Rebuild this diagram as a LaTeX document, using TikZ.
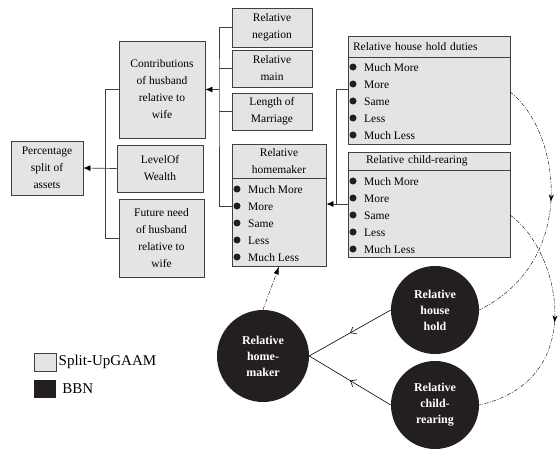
\documentclass[tikz,border=0pt]{standalone}
\usepackage{fontspec}
\setmainfont{Liberation Serif}
\usepackage{tikz}
\usetikzlibrary{arrows.meta,decorations.markings}

\definecolor{boxgray}{HTML}{E4E4E4}
\definecolor{edgegray}{HTML}{404040}
\definecolor{bbnblack}{HTML}{231F20}

\tikzset{
  gbox/.style={draw=edgegray, fill=boxgray, line width=0.8pt, align=center, inner sep=2pt, font=\fontsize{11.5}{17}\selectfont},
  bbn/.style={circle, fill=bbnblack, text=white, align=center, inner sep=0pt, font=\fontsize{12}{16}\selectfont\bfseries},
  itm/.style={anchor=west, inner sep=0pt, text height=8pt, text depth=0pt, font=\fontsize{11.5}{17}\selectfont},
  legtext/.style={anchor=west, inner sep=2pt, font=\fontsize{15}{18}\selectfont},
  link/.style={draw=edgegray, line width=0.7pt},
  feed/.style={link, -{Latex[length=7pt,width=6pt,black]}},
  dd/.style={thin, dash pattern=on 4pt off 1.5pt on 1pt off 1.5pt},
  midarrow/.style={postaction={decorate}, decoration={markings, mark=at position #1 with {\arrow{Stealth[length=7pt,width=5pt]}}}},
  midopen/.style={postaction={decorate}, decoration={markings, mark=at position #1 with {\arrow{Straight Barb[length=5pt,width=8pt,line width=0.6pt]}}}}
}

\begin{document}
\begin{tikzpicture}[x=1pt, y=-1pt]
\useasboundingbox (0,0) rectangle (560,450);

% left part
\node[gbox, minimum width=72, minimum height=54] (pct) at (47,168) {Percentage\\split of\\assets};
\node[gbox, minimum width=86, minimum height=97] (contrib) at (162,89.5) {Contributions\\of husband\\relative to\\wife};
\node[gbox, minimum width=86, minimum height=47] (wealth) at (160,168.5) {LevelOf\\Wealth};
\node[gbox, minimum width=85, minimum height=78] (future) at (161.5,238) {Future need\\of husband\\relative to\\wife};

% middle part
\node[gbox, minimum width=80, minimum height=39] (neg) at (272,27.5) {Relative\\negation};
\node[gbox, minimum width=80, minimum height=37] (main) at (272,68.5) {Relative\\main};
\node[gbox, minimum width=80, minimum height=37] (len) at (272,111.5) {Length of\\Marriage};
\node[gbox, minimum width=94, minimum height=34] (hmT) at (279,161) {Relative\\homemaker};
\node[gbox, minimum width=94, minimum height=88] (hmL) at (279,222) {};

% right part
\node[gbox, minimum width=162, minimum height=21, text width=152pt, align=left] (hhdT) at (429,46.5) {Relative house hold duties};
\node[gbox, minimum width=162, minimum height=87] (hhdL) at (429,100.5) {};
\node[gbox, minimum width=162, minimum height=18, text width=152pt, align=left] (crT) at (429,161) {\hspace*{13pt}Relative child-rearing};
\node[gbox, minimum width=162, minimum height=87] (crL) at (429,213.5) {};

% states
\foreach \lst/\x/\y in {hhdL/348/67, crL/348/181, hmL/232/189} {
  \foreach \t [count=\i] in {Much More, More, Same, Less, Much Less} {
    \fill[bbnblack] (\x+5, \y+17*\i-17) circle (3.5pt);
    \node[itm] (\lst\i) at (\x+16, \y+17*\i-17) {\t};
  }
}

% trunks
\draw[link] (contrib.west) -- ++(-13,0) |- (future.west);
\draw[feed] (wealth.west) -- (pct.east);

\coordinate (t2) at (219,89.5);
\draw[link] (neg.west) -| (t2) |- (hmL.west |- hmL2);
\draw[link] (main.west) -- (main.west -| t2);
\draw[link] (len.west) -- (len.west -| t2);
\draw[feed] (t2) -- (contrib.east);

\coordinate (t3a) at (336,89);
\coordinate (t3) at (336,204);
\draw[link] (hhdL.west |- t3a) -- (t3a) -- (t3) -- (crL.west |- t3);
\draw[feed] (t3) -- (hmL.east |- t3);

% BBN
\node[bbn, minimum size=92] (cHM) at (263,356) {Relative\\home-\\maker};
\node[bbn, minimum size=88] (cHH) at (435,310) {Relative\\house\\hold};
\node[bbn, minimum size=88] (cCR) at (435,405) {Relative\\child-\\rearing};
\draw[line width=0.6pt, midopen=0.5] (cHH.west) -- (cHM.east);
\draw[line width=0.6pt, midopen=0.5] (cCR.west) -- (cHM.east);
\draw[dd, -{Latex[length=8pt,width=5pt]}] (cHM.north) -- (hmL.south);
\coordinate (o1) at (510,92);
\coordinate (o2) at (510,215);
\draw[dd, midarrow=0.47] (o1) .. controls (560,130) and (580,260) .. (cHH.east);
\draw[dd, midarrow=0.5] (o2) .. controls (560,250) and (590,380) .. (cCR.east);

% legend
\node[draw=edgegray, fill=boxgray, line width=1pt, minimum width=22, minimum height=18, inner sep=0pt] (lgA) at (45,362) {};
\node[legtext] (lgAt) at (lgA.east) {Split-UpGAAM};
\node[fill=bbnblack, minimum width=22, minimum height=18, inner sep=0pt] (lgB) at (45,389) {};
\node[legtext, xshift=4pt] (lgBt) at (lgB.east) {BBN};
\end{tikzpicture}
\end{document}
